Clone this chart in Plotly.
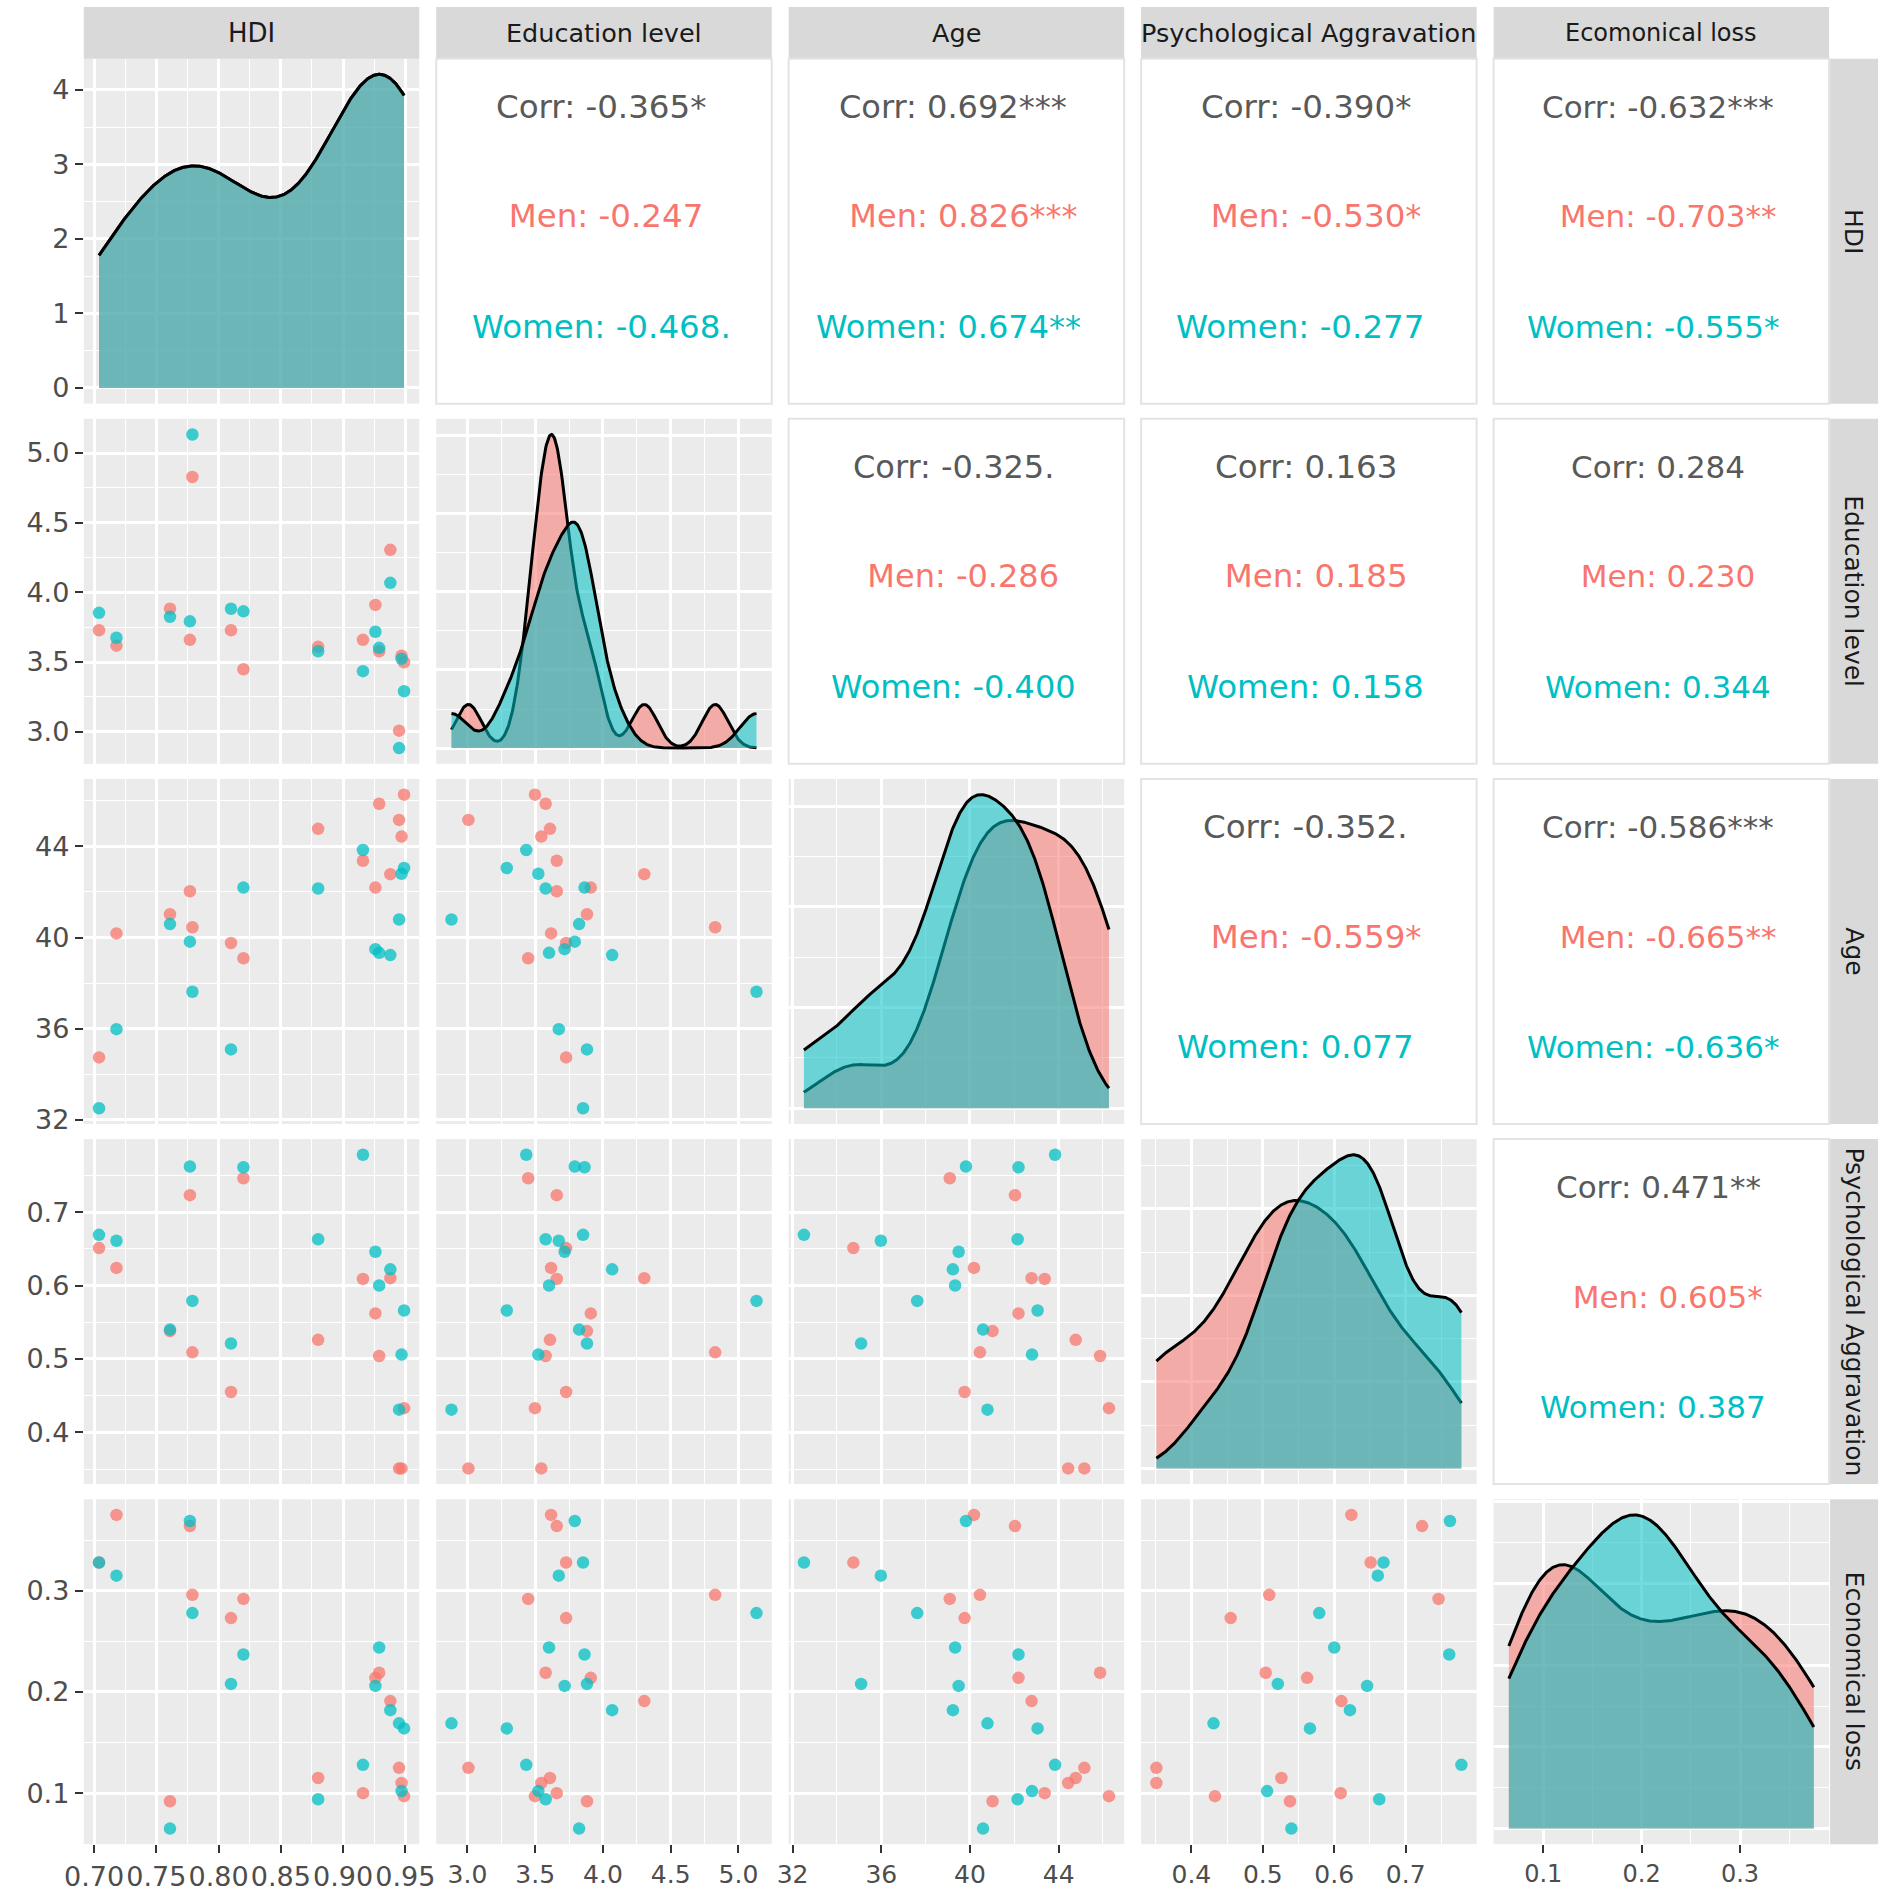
import numpy as np
import plotly.graph_objects as go

# ---------------- data ----------------
hdi = [0.704, 0.718, 0.761, 0.777, 0.779, 0.810, 0.820, 0.880, 0.916, 0.926, 0.929, 0.938, 0.945, 0.947, 0.949]

men_edu = [3.728, 3.617, 3.882, 3.659, 4.828, 3.728, 3.448, 3.609, 3.659, 3.910, 3.577, 4.305, 3.007, 3.545, 3.498]
men_age = [34.74, 40.18, 41.02, 42.03, 40.45, 39.76, 39.09, 44.77, 43.37, 42.19, 45.87, 42.78, 45.16, 44.43, 46.27]
men_psych = [0.651, 0.624, 0.538, 0.723, 0.509, 0.455, 0.746, 0.526, 0.609, 0.562, 0.504, 0.610, 0.351, 0.351, 0.433]
men_econ = [0.328, 0.375, 0.092, 0.364, 0.296, 0.273, 0.292, 0.115, 0.100, 0.214, 0.219, 0.191, 0.125, 0.110, 0.097]

women_edu = [3.853, 3.674, 3.824, 3.792, 5.133, 3.882, 3.864, 3.577, 3.434, 3.717, 3.602, 4.068, 2.882, 3.523, 3.290]
women_age = [32.51, 35.98, 40.59, 39.82, 37.62, 35.09, 42.19, 42.15, 43.84, 39.49, 39.33, 39.23, 40.79, 42.80, 43.05]
women_psych = [0.669, 0.661, 0.540, 0.762, 0.579, 0.521, 0.761, 0.663, 0.778, 0.646, 0.600, 0.622, 0.431, 0.506, 0.566]
women_econ = [0.328, 0.315, 0.065, 0.369, 0.278, 0.208, 0.237, 0.094, 0.128, 0.206, 0.244, 0.182, 0.169, 0.102, 0.164]

top_labels = ["HDI", "Education level", "Age", "Psychological Aggravation", "Ecomonical loss"]
right_labels = ["HDI", "Education level", "Age", "Psychological Aggravation", "Economical loss"]

# tick settings per variable
tick_step = [0.05, 0.5, 4, 0.1, 0.1]
tick_start = [0.70, 3.0, 32, 0.4, 0.1]
tick_fmt = [".2f", ".1f", "d", ".1f", ".1f"]

# correlation labels (upper triangle, row-major)
corr_cells = [(0, 1), (0, 2), (0, 3), (0, 4), (1, 2), (1, 3), (1, 4), (2, 3), (2, 4), (3, 4)]
corr_all = ["-0.365*", "0.692***", "-0.390*", "-0.632***", "-0.325.", "0.163", "0.284", "-0.352.", "-0.586***", "0.471**"]
corr_men = ["-0.247", "0.826***", "-0.530*", "-0.703**", "-0.286", "0.185", "0.230", "-0.559*", "-0.665**", "0.605*"]
corr_women = ["-0.468.", "0.674**", "-0.277", "-0.555*", "-0.400", "0.158", "0.344", "0.077", "-0.636*", "0.387"]

men = [hdi, men_edu, men_age, men_psych, men_econ]
women = [hdi, women_edu, women_age, women_psych, women_econ]

# ---------------- styling ----------------
W, H = 1902, 1895
FONT = "DejaVu Sans"
RED = "#F8766D"
TEAL = "#00BFC4"
RED_FILL = "rgba(248,118,109,0.55)"
TEAL_FILL = "rgba(0,191,196,0.55)"
RED_PT = "rgba(248,118,109,0.75)"
TEAL_PT = "rgba(0,191,196,0.75)"
PANEL_BG = "#EBEBEB"
STRIP_BG = "#D9D9D9"

# per-column text size (the reference columns are drawn slightly wider)
col_tick_size = [27, 25, 25, 25, 24]
col_strip_size = [26, 25.5, 25.5, 25.5, 24]
col_corr_size = [31, 32.5, 32, 32.5, 31]

L0, PW, GX = 65.0, 342.0, 17.25
T0, PH, GY = 59.0, 347.0, 15.25


def px(x):
    return x / W


def py(y):
    return 1 - y / H


def col_left(j):
    return L0 + j * (PW + GX)


def row_top(i):
    return T0 + i * (PH + GY)


def kde(vals, lo, hi, n=512):
    v = np.asarray(vals, dtype=float)
    sd = v.std(ddof=1)
    q75, q25 = np.percentile(v, [75, 25])
    s = min(sd, (q75 - q25) / 1.34)
    if s <= 0:
        s = sd
    bw = 0.9 * s * len(v) ** (-0.2)
    xs = np.linspace(lo, hi, n)
    ys = np.exp(-0.5 * ((xs[:, None] - v[None, :]) / bw) ** 2).sum(1) / (len(v) * bw * np.sqrt(2 * np.pi))
    return xs, ys


def pretty_step(span):
    raw = span / 4.0
    mag = 10 ** np.floor(np.log10(raw))
    cands = [m * mag for m in (0.5, 1, 2, 2.5, 4, 5, 10)]
    return min(cands, key=lambda d: abs(span / d - 4))


ranges = []
for v in range(5):
    allv = list(men[v]) + list(women[v])
    lo, hi = min(allv), max(allv)
    sp = hi - lo
    ranges.append((lo, hi, lo - 0.05 * sp, hi + 0.05 * sp))

fig = go.Figure()
layout = {}


def axis_common(step, start, fmt, show, fsize):
    d = dict(
        dtick=step, tick0=start, tickformat=fmt,
        showgrid=True, gridcolor="white", gridwidth=3,
        minor=dict(dtick=step / 2, tick0=start, showgrid=True, gridcolor="white", gridwidth=1.4, ticks=""),
        zeroline=False, showline=False,
        showticklabels=show, ticks="outside" if show else "",
        ticklen=8, tickwidth=2, tickcolor="#333333",
        tickfont=dict(family=FONT, size=fsize, color="#4D4D4D"), fixedrange=True,
    )
    return d


for i in range(5):
    for j in range(5):
        if i < j:
            continue
        k = i * 5 + j + 1
        xname = "xaxis" if k == 1 else f"xaxis{k}"
        yname = "yaxis" if k == 1 else f"yaxis{k}"
        xref = "x" if k == 1 else f"x{k}"
        yref = "y" if k == 1 else f"y{k}"
        xd = [px(col_left(j)), px(col_left(j) + PW)]
        yd = [py(row_top(i) + PH), py(row_top(i))]

        xa = axis_common(tick_step[j], tick_start[j], tick_fmt[j], i == 4, col_tick_size[j])
        xa.update(domain=xd, range=[ranges[j][2], ranges[j][3]], anchor=yref)
        layout[xname] = xa

        if i == j:
            lo, hi = ranges[j][0], ranges[j][1]
            xs, ym = kde(men[j], lo, hi)
            _, yw = kde(women[j], lo, hi)
            m = max(ym.max(), yw.max())
            step = pretty_step(m)
            ya = axis_common(step, 0, "", j == 0, col_tick_size[0])
            if j == 0:
                ya["tickformat"] = "d"
            ya.update(domain=yd, range=[-0.05 * m, 1.05 * m], anchor=xref)
            layout[yname] = ya
            fig.add_trace(go.Scatter(x=xs, y=ym, mode="lines", fill="tozeroy", fillcolor=RED_FILL,
                                     line=dict(color="black", width=3), xaxis=xref, yaxis=yref,
                                     showlegend=False, hoverinfo="skip"))
            fig.add_trace(go.Scatter(x=xs, y=yw, mode="lines", fill="tozeroy", fillcolor=TEAL_FILL,
                                     line=dict(color="black", width=3), xaxis=xref, yaxis=yref,
                                     showlegend=False, hoverinfo="skip"))
        else:
            ya = axis_common(tick_step[i], tick_start[i], tick_fmt[i], j == 0, col_tick_size[0])
            ya.update(domain=yd, range=[ranges[i][2], ranges[i][3]], anchor=xref)
            layout[yname] = ya
            fig.add_trace(go.Scatter(x=men[j], y=men[i], mode="markers",
                                     marker=dict(size=12.5, color=RED_PT, line=dict(width=0)),
                                     xaxis=xref, yaxis=yref, showlegend=False))
            fig.add_trace(go.Scatter(x=women[j], y=women[i], mode="markers",
                                     marker=dict(size=12.5, color=TEAL_PT, line=dict(width=0)),
                                     xaxis=xref, yaxis=yref, showlegend=False))

shapes = []
annotations = []

# top strips
for j in range(5):
    x0, x1 = col_left(j), col_left(j) + PW
    shapes.append(dict(type="rect", xref="paper", yref="paper", x0=px(x0), x1=px(x1),
                       y0=py(T0), y1=py(7), fillcolor=STRIP_BG, line=dict(width=0), layer="below"))
    annotations.append(dict(text=top_labels[j], xref="paper", yref="paper", x=px((x0 + x1) / 2),
                            y=py((7 + T0) / 2), showarrow=False, xanchor="center", yanchor="middle",
                            font=dict(family=FONT, size=col_strip_size[j], color="#1A1A1A")))

# right strips
SX0, SX1 = col_left(4) + PW + 1, 1894
for i in range(5):
    y0, y1 = row_top(i), row_top(i) + PH
    shapes.append(dict(type="rect", xref="paper", yref="paper", x0=px(SX0), x1=px(SX1),
                       y0=py(y1), y1=py(y0), fillcolor=STRIP_BG, line=dict(width=0), layer="below"))
    annotations.append(dict(text=right_labels[i], xref="paper", yref="paper", x=px((SX0 + SX1) / 2),
                            y=py((y0 + y1) / 2), showarrow=False, xanchor="center", yanchor="middle",
                            textangle=90, font=dict(family=FONT, size=25, color="#1A1A1A")))

# upper correlation panels
NB = "\u00a0"
for n, (i, j) in enumerate(corr_cells):
    x0, x1 = col_left(j), col_left(j) + PW
    y0 = row_top(i)
    shapes.append(dict(type="rect", xref="paper", yref="paper", x0=px(x0), x1=px(x1),
                       y0=py(y0 + PH), y1=py(y0), fillcolor="white",
                       line=dict(color="#E3E3E3", width=2), layer="below"))
    cx = px((x0 + x1) / 2 - 3)
    keys = ["Men", "Women"]
    vals = [corr_men[n], corr_women[n]]
    klen = max(len(k) for k in keys)
    vlen = max(len(v) for v in vals)
    lines = [NB * (klen - len(k)) + k + ": " + v + NB * (vlen - len(v)) for k, v in zip(keys, vals)]
    texts = ["Corr: " + corr_all[n]] + lines
    colors = ["#595959", RED, TEAL]
    fracs = [0.139, 0.457, 0.777]
    for t, c, f in zip(texts, colors, fracs):
        annotations.append(dict(text=t, xref="paper", yref="paper", x=cx, y=py(y0 + f * PH),
                                showarrow=False, xanchor="center", yanchor="middle",
                                font=dict(family=FONT, size=col_corr_size[j], color=c)))

layout.update(
    width=W, height=H,
    margin=dict(l=0, r=0, t=0, b=0),
    paper_bgcolor="white", plot_bgcolor=PANEL_BG,
    shapes=shapes, annotations=annotations,
    showlegend=False, font=dict(family=FONT),
)
fig.update_layout(**layout)
fig.write_html(
    "out.html",
    config={"displayModeBar": False},
    post_script="document.body.style.margin='0';document.body.style.padding='0';document.body.style.overflow='hidden';",
)
